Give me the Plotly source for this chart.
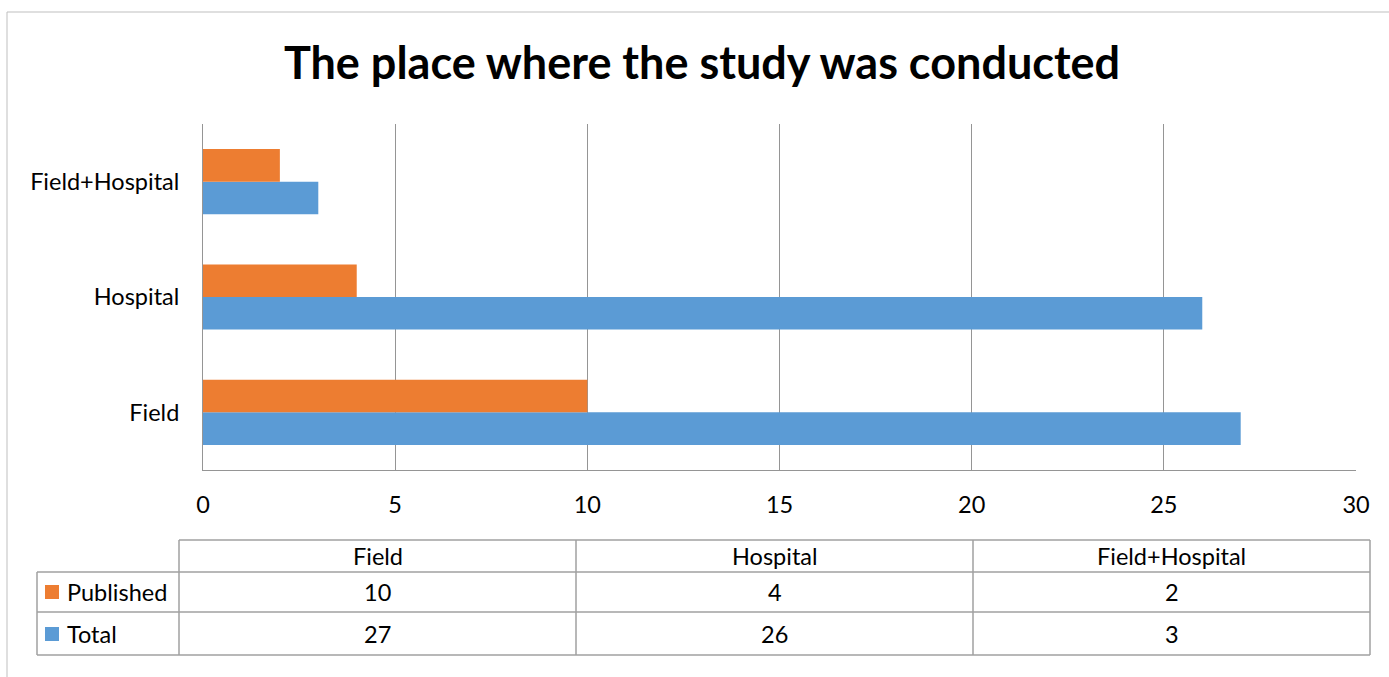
import plotly.graph_objects as go

categories = ["Field", "Hospital", "Field+Hospital"]
published = [10, 4, 2]
total = [27, 26, 3]
series_names = ["Published", "Total"]
x_ticks = [0, 5, 10, 15, 20, 25, 30]
title_text = "The place where the study was conducted"

W, H = 1389, 677
ORANGE = "#ED7D31"
BLUE = "#5B9BD5"
GRID = "#959595"
TBL = "#a0a0a0"
FONT = "Lato"
FS = 23.5

def px(x):
    return x / W

def py(y):
    return 1 - y / H

fig = go.Figure()
fig.add_trace(go.Bar(y=categories, x=total, name="Total", orientation="h",
                     marker=dict(color=BLUE, line=dict(width=0))))
fig.add_trace(go.Bar(y=categories, x=published, name="Published", orientation="h",
                     marker=dict(color=ORANGE, line=dict(width=0))))

fig.update_layout(
    width=W, height=H,
    margin=dict(l=0, r=0, t=0, b=0, autoexpand=False),
    paper_bgcolor="white", plot_bgcolor="white",
    barmode="group", bargap=0.435, bargroupgap=0,
    showlegend=False,
    font=dict(family=FONT, color="black"),
    title=dict(text="<b>" + title_text + "</b>", x=px(702), xanchor="center",
               y=py(63), yanchor="middle", font=dict(size=45, family=FONT, color="black")),
    xaxis=dict(domain=[px(203), px(1356)], range=[0, 30], tickvals=x_ticks, automargin=False,
               showgrid=True, gridcolor=GRID, gridwidth=1,
               showline=True, linecolor=GRID, linewidth=1, zeroline=False,
               ticks="", ticklabelstandoff=14, tickfont=dict(size=FS, family=FONT)),
    yaxis=dict(domain=[py(470), py(124)], categoryorder="array", categoryarray=categories,
               automargin=False,
               showline=True, linecolor=GRID, linewidth=1, showgrid=False,
               ticks="", ticklabelstandoff=18, tickfont=dict(size=FS, family=FONT)),
)

shapes = []
shapes.append(dict(type="rect", xref="paper", yref="paper", x0=px(7), x1=1.01, y0=-0.01, y1=py(12),
                   line=dict(color="#bfbfbf", width=1)))
col_x = [179, 576, 973, 1370]
row_y = [540, 572, 612, 655]
def hline(x0, x1, y):
    shapes.append(dict(type="line", xref="paper", yref="paper", x0=px(x0), x1=px(x1), y0=py(y), y1=py(y),
                       line=dict(color=TBL, width=1.5)))
def vline(x, y0, y1):
    shapes.append(dict(type="line", xref="paper", yref="paper", x0=px(x), x1=px(x), y0=py(y0), y1=py(y1),
                       line=dict(color=TBL, width=1.5)))
hline(179, 1370, row_y[0])
for y in row_y[1:]:
    hline(37, 1370, y)
vline(37, row_y[1], row_y[3])
for x in col_x:
    vline(x, row_y[0], row_y[3])

annotations = []
centers = [(col_x[i] + col_x[i + 1]) / 2 for i in range(3)]
for c, cat in zip(centers, categories):
    annotations.append(dict(text=cat, x=px(c), y=py(556), xref="paper", yref="paper",
                            showarrow=False, xanchor="center", yanchor="middle", font=dict(size=FS, family=FONT)))
rows = [("Published", published, ORANGE, 592), ("Total", total, BLUE, 634)]
for name, vals, col, yc in rows:
    shapes.append(dict(type="rect", xref="paper", yref="paper", x0=px(45), x1=px(59), y0=py(yc + 7), y1=py(yc - 7),
                       fillcolor=col, line=dict(width=0)))
    annotations.append(dict(text=name, x=px(65), y=py(yc), xref="paper", yref="paper", showarrow=False,
                            xanchor="left", yanchor="middle", font=dict(size=FS, family=FONT)))
    for c, v in zip(centers, vals):
        annotations.append(dict(text=str(v), x=px(c), y=py(yc), xref="paper", yref="paper", showarrow=False,
                                xanchor="center", yanchor="middle", font=dict(size=FS, family=FONT)))

fig.update_layout(shapes=shapes, annotations=annotations)
fig.write_html("out.html", config={"displayModeBar": False},
               post_script="document.body.style.margin='0px';document.body.style.overflow='hidden';")
